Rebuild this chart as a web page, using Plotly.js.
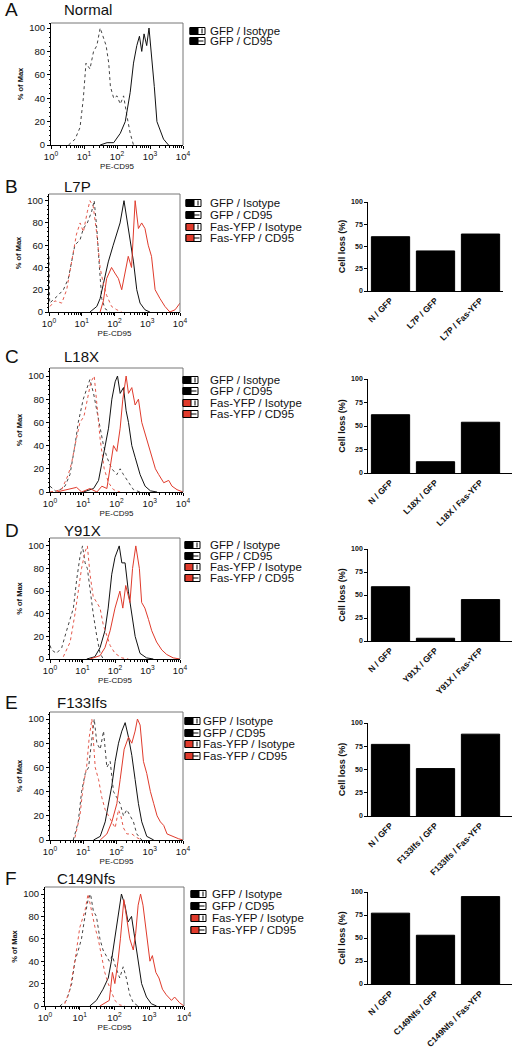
<!DOCTYPE html>
<html><head><meta charset="utf-8">
<script src="https://cdn.plot.ly/plotly-3.0.1.min.js"></script>
<style>html,body{margin:0;padding:0;background:#fff}</style>
</head><body><div id="chart" style="width:513px;height:1050px"></div>
<script>
// ---------- DATA ----------
const legendLabels = ['GFP / Isotype','GFP / CD95','Fas-YFP / Isotype','Fas-YFP / CD95'];
const decadeTicks = [0,1,2,3,4];
const decadeLabels = ['10<sup>0</sup>','10<sup>1</sup>','10<sup>2</sup>','10<sup>3</sup>','10<sup>4</sup>'];
const pctTicks = [0,20,40,60,80,100];
const lossTicks = [0,25,50,75,100];

// A Normal
const aIsoX=[0.53,0.73,0.88,0.98,1.06,1.18,1.29,1.39,1.49,1.60,1.67,1.75,1.80,1.90,2.00,2.10,2.20,2.30,2.40,2.50];
const aIsoY=[0,5,15,40,70,65,80,85,100,90,85,70,50,40,42,35,42,25,10,0];
const aCdX=[1.49,1.70,1.90,2.10,2.25,2.40,2.50,2.60,2.68,2.75,2.82,2.90,2.97,3.06,3.13,3.21,3.31,3.41,3.56];
const aCdY=[0,2,2,10,20,45,70,85,93,80,95,85,100,75,50,20,12,5,0];

// B L7P
const bGIsoX=[0,0.02,0.28,0.44,0.59,0.69,0.79,0.95,1.05,1.17,1.30,1.38,1.46,1.54,1.61,1.71,1.86];
const bGIsoY=[50,8,15,20,30,45,60,65,75,80,90,100,75,40,12,3,0];
const bGCdX=[1.25,1.46,1.56,1.66,1.81,1.96,2.07,2.17,2.29,2.37,2.47,2.58,2.68,2.78,2.93,3.08];
const bGCdY=[0,5,12,25,45,60,70,80,100,85,70,45,20,8,2,0];
const bFIsoX=[0.03,0.18,0.39,0.54,0.69,0.84,0.95,1.05,1.17,1.25,1.35,1.46,1.56,1.66,1.76,1.91,2.07,2.22];
const bFIsoY=[5,10,8,20,45,70,80,72,90,100,95,70,40,25,15,5,2,0];
const bFCdX=[1.56,1.66,1.76,1.91,2.01,2.12,2.22,2.32,2.42,2.52,2.63,2.73,2.83,2.93,3.03,3.13,3.24,3.39,3.54,3.69,3.85,4.0];
const bFCdY=[0,10,30,40,35,30,20,35,50,40,100,75,80,75,60,50,20,12,5,0,2,8];
const bCats=['N / GFP','L7P / GFP','L7P / Fas-YFP'];
const bLoss=[61,45,64];

// C L18X
const cGIsoX=[0,0.2,0.45,0.6,0.75,0.85,1.0,1.13,1.2,1.31,1.41,1.51,1.61,1.71,1.86,2.01,2.11,2.21,2.36,2.51,2.71];
const cGIsoY=[5,0,5,15,40,60,80,90,97,85,70,55,40,30,20,15,20,15,8,2,0];
const cGCdX=[1.0,1.31,1.46,1.56,1.66,1.76,1.86,1.96,2.03,2.11,2.21,2.29,2.36,2.46,2.56,2.71,2.86,3.02,3.22];
const cGCdY=[0,3,10,25,40,55,80,95,100,85,90,70,60,40,30,15,5,1,0];
const cFIsoX=[0,0.35,0.55,0.65,0.75,0.9,1.02,1.13,1.23,1.33,1.41,1.51,1.63,1.76,1.91,2.11];
const cFIsoY=[0,2,15,25,40,60,65,80,95,100,75,45,20,8,2,0];
const cFCdX=[0.2,0.8,0.95,1.2,1.41,1.56,1.71,1.91,2.01,2.11,2.19,2.29,2.36,2.46,2.56,2.66,2.76,2.86,2.96,3.07,3.17,3.27,3.42,3.57,3.67,3.82,4.0];
const cFCdY=[0,4,0,3,0,5,3,40,35,55,80,100,85,90,75,80,60,50,40,30,20,15,8,10,5,2,0];
const cCats=['N / GFP','L18X / GFP','L18X / Fas-YFP'];
const cLoss=[62,12,54];

// D Y91X
const dGIsoX=[0,0.05,0.2,0.36,0.51,0.62,0.72,0.82,0.92,1.0,1.08,1.15,1.23,1.33,1.44,1.54,1.64];
const dGIsoY=[12,8,5,10,25,35,45,70,90,100,85,80,60,40,20,5,0];
const dGCdX=[1.13,1.38,1.54,1.69,1.79,1.9,2.0,2.13,2.21,2.31,2.41,2.51,2.62,2.77,2.97,3.18];
const dGCdY=[0,2,10,25,45,75,90,100,85,85,60,40,20,5,1,0];
const dFIsoX=[0.41,0.62,0.77,0.87,0.97,1.08,1.15,1.23,1.33,1.44,1.54,1.64,1.74,1.85,2.0,2.21,2.41];
const dFIsoY=[2,15,40,60,80,95,100,75,55,50,45,30,22,12,5,1,0];
const dFCdX=[1.23,1.54,1.69,1.85,2.0,2.15,2.24,2.33,2.46,2.54,2.64,2.75,2.82,2.92,3.03,3.13,3.28,3.44,3.59,3.79,4.0];
const dFCdY=[0,3,10,25,45,60,45,65,50,80,100,80,50,45,35,25,15,8,4,1,0];
const dCats=['N / GFP','Y91X / GFP','Y91X / Fas-YFP'];
const dLoss=[59,3,45];

// E F133Ifs
const eGIsoX=[0.7,0.85,0.95,1.06,1.16,1.26,1.33,1.41,1.51,1.61,1.71,1.81,1.91,2.01,2.11,2.21,2.31,2.41,2.51,2.61,2.76];
const eGIsoY=[0,15,40,55,60,85,100,80,75,90,60,65,40,35,30,20,25,20,15,5,0];
const eGCdX=[1.31,1.51,1.66,1.76,1.86,1.96,2.06,2.16,2.26,2.36,2.46,2.56,2.66,2.76,2.91,3.12];
const eGCdY=[0,3,15,30,45,65,80,90,97,85,70,50,30,15,3,0];
const eFIsoX=[0.75,0.9,1.0,1.1,1.18,1.26,1.36,1.46,1.56,1.66,1.76,1.86,1.96,2.06,2.13,2.21,2.31,2.46,2.61,2.76];
const eFIsoY=[2,20,45,60,85,100,60,50,35,25,20,15,10,25,20,10,5,5,2,0];
const eFCdX=[1.51,1.71,1.86,2.01,2.11,2.23,2.36,2.46,2.56,2.63,2.71,2.81,2.91,3.02,3.12,3.22,3.32,3.42,3.52,3.67,3.87,4.0];
const eFCdY=[0,5,15,30,50,75,85,80,90,100,95,65,55,40,30,20,15,12,5,3,1,0];
const eCats=['N / GFP','F133Ifs / GFP','F133Ifs / Fas-YFP'];
const eLoss=[77,51,88];

// F C149Nfs
const fGIsoX=[0.43,0.62,0.77,0.86,0.96,1.05,1.15,1.24,1.31,1.39,1.48,1.58,1.67,1.75,1.85,1.94,2.03,2.15,2.25,2.34,2.44,2.54,2.68];
const fGIsoY=[0,5,20,40,50,60,80,95,100,85,80,60,50,45,40,45,35,25,35,25,10,3,0];
const fGCdX=[1.29,1.48,1.67,1.82,1.91,2.01,2.1,2.2,2.3,2.39,2.49,2.58,2.68,2.78,2.92,3.06,3.21];
const fGCdY=[0,5,15,25,40,60,80,100,90,75,80,60,40,20,8,2,0];
const fFIsoX=[0.57,0.72,0.86,1.0,1.15,1.24,1.34,1.44,1.53,1.63,1.72,1.82,1.91,2.01,2.15,2.3];
const fFIsoY=[2,15,40,70,85,100,85,70,60,45,30,20,12,5,1,0];
const fFCdX=[1.58,1.72,1.85,1.94,2.01,2.1,2.17,2.27,2.34,2.44,2.54,2.61,2.68,2.75,2.82,2.92,3.02,3.09,3.19,3.28,3.38,3.49,3.64,3.73,3.87,4.0];
const fFCdY=[0,3,5,30,20,40,60,95,80,60,50,65,90,100,90,65,40,45,30,25,15,10,5,8,3,0];
const fCats=['N / GFP','C149Nfs / GFP','C149Nfs / Fas-YFP'];
const fLoss=[77,53,95];

// ---------- LAYOUT / STYLE ----------
const W=513,H=1050;
const FONT='Arial, "Liberation Sans", sans-serif';
const RED='#e03b2c', RED_D='#e4574a', BLK='#111', BLK_D='#444';
const px=x=>x/W, py=y=>1-y/H;

const styles={gIso:{color:BLK_D,dash:'dot',w:1}, gCd:{color:BLK,dash:'solid',w:1}, fIso:{color:RED_D,dash:'dot',w:1}, fCd:{color:RED,dash:'solid',w:1}};

const hists=[
 {letter:'A',title:'Normal',l:51,r:183,top:23,bot:145,ymax:104.3,ty:10,tx:62,
  curves:[[aIsoX,aIsoY,'gIso'],[aCdX,aCdY,'gCd']],
  leg:{x:190,tx:208,ys:[31,41],n:2}},
 {letter:'B',title:'L7P',l:49,r:180,top:194,bot:312,ymax:106,ty:186,tx:62,
  curves:[[bGIsoX,bGIsoY,'gIso'],[bGCdX,bGCdY,'gCd'],[bFIsoX,bFIsoY,'fIso'],[bFCdX,bFCdY,'fCd']],
  leg:{x:186,tx:208,ys:[203,215,227,238],n:4},
  bar:{cats:bCats,vals:bLoss,l:368,r:503,xr:[-0.5,2.5],y0:291,y100:202}},
 {letter:'C',title:'L18X',l:50,r:183,top:368,bot:492,ymax:106.9,ty:356,tx:62,
  curves:[[cGIsoX,cGIsoY,'gIso'],[cGCdX,cGCdY,'gCd'],[cFIsoX,cFIsoY,'fIso'],[cFCdX,cFCdY,'fCd']],
  leg:{x:183,tx:208,ys:[380,391,403,414],n:4},
  bar:{cats:cCats,vals:cLoss,l:368,r:512,xr:[-0.5,2.7],y0:473,y100:379}},
 {letter:'D',title:'Y91X',l:50,r:180,top:538,bot:659,ymax:107,ty:530,tx:62,
  curves:[[dGIsoX,dGIsoY,'gIso'],[dGCdX,dGCdY,'gCd'],[dFIsoX,dFIsoY,'fIso'],[dFCdX,dFCdY,'fCd']],
  leg:{x:185,tx:208,ys:[545,556,567,578],n:4},
  bar:{cats:dCats,vals:dLoss,l:368,r:512,xr:[-0.5,2.7],y0:641,y100:549}},
 {letter:'E',title:'F133Ifs',l:50,r:183,top:712,bot:840,ymax:105.8,ty:702,tx:55,
  curves:[[eGIsoX,eGIsoY,'gIso'],[eGCdX,eGCdY,'gCd'],[eFIsoX,eFIsoY,'fIso'],[eFCdX,eFCdY,'fCd']],
  leg:{x:185,tx:201,ys:[721,733,744,756],n:4},
  bar:{cats:eCats,vals:eLoss,l:368,r:512,xr:[-0.5,2.7],y0:816,y100:723}},
 {letter:'F',title:'C149Nfs',l:45,r:184,top:887,bot:1006,ymax:106.25,ty:878,tx:55,
  curves:[[fGIsoX,fGIsoY,'gIso'],[fGCdX,fGCdY,'gCd'],[fFIsoX,fFIsoY,'fIso'],[fFCdX,fFCdY,'fCd']],
  leg:{x:191,tx:210,ys:[894,906,918,930],n:4},
  bar:{cats:fCats,vals:fLoss,l:368,r:512,xr:[-0.5,2.7],y0:984,y100:892}}
];

const data=[], shapes=[], annotations=[];
const layout={width:W,height:H,margin:{l:0,r:0,t:0,b:0},paper_bgcolor:'#fff',plot_bgcolor:'rgba(0,0,0,0)',
  showlegend:false,font:{family:FONT,color:'#111'}};
let ax=0;
const minorVals=[];
for(let k=0;k<4;k++){for(let m=2;m<=9;m++){minorVals.push(k+Math.log10(m));}}

function legendIcon(x,y,type){
  const fill = type.startsWith('f') ? RED : '#000';
  const x0=x,x1=x+15,xm=x+8,y0=y-3.5,y1=y+3.5;
  shapes.push({type:'rect',xref:'paper',yref:'paper',x0:px(x0),x1:px(x1),y0:py(y1),y1:py(y0),line:{color:'#000',width:1},fillcolor:'#fff'});
  shapes.push({type:'rect',xref:'paper',yref:'paper',x0:px(x0),x1:px(xm),y0:py(y1),y1:py(y0),line:{color:'#000',width:1},fillcolor:fill});
  if(type.endsWith('Cd')){
    shapes.push({type:'line',xref:'paper',yref:'paper',x0:px(xm),x1:px(x1-1.5),y0:py(y),y1:py(y),line:{color:'#000',width:1}});
  } else {
    shapes.push({type:'line',xref:'paper',yref:'paper',x0:px(x1-3),x1:px(x1-3),y0:py(y1-1),y1:py(y0+1),line:{color:'#000',width:1}});
  }
}

hists.forEach(p=>{
  ax++;
  const xa='x'+(ax>1?ax:''), ya='y'+(ax>1?ax:'');
  const xk='xaxis'+(ax>1?ax:''), yk='yaxis'+(ax>1?ax:'');
  p.curves.forEach(c=>{
    const s=styles[c[2]];
    data.push({type:'scatter',mode:'lines',x:c[0],y:c[1],xaxis:xa,yaxis:ya,
      line:{color:s.color,dash:s.dash,width:s.w,shape:'linear'},hoverinfo:'skip'});
  });
  layout[xk]={domain:[px(p.l),px(p.r)],range:[0,4],anchor:ya,tickvals:decadeTicks,ticktext:decadeLabels,
    ticks:'outside',ticklen:3,tickwidth:1,tickcolor:'#000',tickfont:{size:9.5,family:FONT,color:'#111'},
    showline:true,linecolor:'#000',linewidth:1,showgrid:false,zeroline:false,automargin:false,fixedrange:true,
    minor:{tickvals:minorVals,ticks:'outside',ticklen:2,tickcolor:'#000',showgrid:false},
    title:{text:'PE-CD95',font:{size:8,family:FONT,color:'#111'},standoff:1}};
  layout[yk]={domain:[py(p.bot),py(p.top)],range:[0,p.ymax],anchor:xa,tickvals:pctTicks,
    ticks:'outside',ticklen:3,tickwidth:1,tickcolor:'#000',tickfont:{size:9.5,family:FONT,color:'#111'},
    showline:true,linecolor:'#000',linewidth:1,showgrid:false,zeroline:false,automargin:false,fixedrange:true,
    minor:{dtick:4,ticks:'outside',ticklen:1.5,tickcolor:'#000',showgrid:false},
    title:{text:'<b>% of Max</b>',font:{size:7.5,family:FONT,color:'#111'},standoff:4}};
  shapes.push({type:'line',xref:'paper',yref:'paper',x0:px(p.l),x1:px(p.r),y0:py(p.top),y1:py(p.top),line:{color:'#777',width:1}});
  shapes.push({type:'line',xref:'paper',yref:'paper',x0:px(p.r),x1:px(p.r),y0:py(p.top),y1:py(p.bot),line:{color:'#777',width:1}});
  annotations.push({xref:'paper',yref:'paper',x:px(3),y:py(p.ty),text:p.letter,showarrow:false,xanchor:'left',yanchor:'middle',font:{size:19,family:FONT,color:'#111'}});
  annotations.push({xref:'paper',yref:'paper',x:px(p.tx),y:py(p.ty),text:p.title,showarrow:false,xanchor:'left',yanchor:'middle',font:{size:15,family:FONT,color:'#111'}});
  const types=['gIso','gCd','fIso','fCd'];
  for(let i=0;i<p.leg.n;i++){
    legendIcon(p.leg.x,p.leg.ys[i],types[i]);
    annotations.push({xref:'paper',yref:'paper',x:px(p.leg.tx),y:py(p.leg.ys[i]),text:legendLabels[i],showarrow:false,
      xanchor:'left',yanchor:'middle',font:{size:11.5,family:FONT,color:'#111'}});
  }
  if(p.bar){
    ax++;
    const b=p.bar;
    const bxa='x'+ax, bya='y'+ax;
    data.push({type:'bar',x:[0,1,2],y:b.vals,xaxis:bxa,yaxis:bya,width:0.85,
      marker:{color:'#000',line:{color:'#000',width:1}},hoverinfo:'skip'});
    layout['xaxis'+ax]={domain:[px(b.l),px(b.r)],range:b.xr,anchor:bya,tickvals:[0,1,2],ticktext:b.cats.map(t=>'<b>'+t+'</b>'),
      tickangle:-45,ticks:'',tickfont:{size:8.5,family:FONT,color:'#111'},showline:true,linecolor:'#000',linewidth:1.3,
      showgrid:false,zeroline:false,automargin:false,fixedrange:true};
    layout['yaxis'+ax]={domain:[py(b.y0),py(b.y100)],range:[0,100],anchor:bxa,tickvals:lossTicks,ticktext:lossTicks.map(t=>'<b>'+t+'</b>'),
      ticks:'outside',ticklen:2.5,tickwidth:1,tickcolor:'#000',tickfont:{size:7,family:FONT,color:'#111'},
      showline:true,linecolor:'#000',linewidth:1.3,showgrid:false,zeroline:false,automargin:false,fixedrange:true,
      title:{text:'<b>Cell loss (%)</b>',font:{size:9,family:FONT,color:'#111'},standoff:4}};
  }
});
layout.shapes=shapes;
layout.annotations=annotations;
Plotly.newPlot('chart',data,layout,{staticPlot:true,displayModeBar:false});
</script></body></html>
